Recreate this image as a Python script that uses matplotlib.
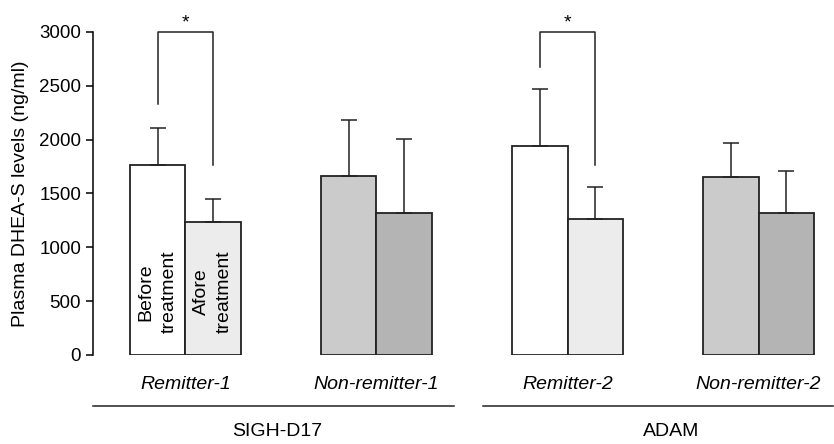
import numpy as np
import matplotlib.pyplot as plt
from matplotlib.transforms import blended_transform_factory

plt.rcParams['font.family'] = 'Liberation Sans'

# data
groups = ['Remitter-1', 'Non-remitter-1', 'Remitter-2', 'Non-remitter-2']
before = [1760, 1665, 1945, 1650]
before_err = [350, 515, 525, 320]
after = [1235, 1320, 1262, 1320]
after_err = [215, 685, 298, 385]
before_colors = ['white', '#cbcbcb', 'white', '#cbcbcb']
after_colors = ['#ececec', '#b4b4b4', '#ececec', '#b4b4b4']
scales = ['SIGH-D17', 'ADAM']
scale_span = [(-0.484, 1.406), (1.558, 3.39)]
scale_label_x = [0.48, 2.54]
# significance brackets: (group index, left leg bottom, right leg bottom)
brackets = [(0, 2330, 1765), (2, 2677, 1765)]

w = 0.29
x = np.arange(len(groups))

fig = plt.figure(figsize=(8.34, 4.44), dpi=100)
ax = fig.add_axes([0.1115, 0.2005, 0.8885, 0.7275])

ax.bar(x - w/2, before, w, color=before_colors, edgecolor='#222222', linewidth=1.3)
ax.bar(x + w/2, after, w, color=after_colors, edgecolor='#222222', linewidth=1.3)
ax.errorbar(x - w/2, before, yerr=[np.zeros(4), before_err], fmt='none',
            ecolor='#222222', elinewidth=1.1, capsize=6, capthick=1.1)
ax.errorbar(x + w/2, after, yerr=[np.zeros(4), after_err], fmt='none',
            ecolor='#222222', elinewidth=1.1, capsize=6, capthick=1.1)

for g, lb, rb in brackets:
    xl, xr = g - w/2, g + w/2
    ax.plot([xl, xl, xr, xr], [lb, 3000, 3000, rb], color='#222222', lw=1.1,
            clip_on=False)
    ax.text(g, 3005, '*', ha='center', va='bottom', fontsize=14, clip_on=False)

ax.text(0 - w/2, 585, 'Before\ntreatment', rotation=90, ha='center', va='center',
        multialignment='center', fontsize=14, linespacing=1.45)
ax.text(0 + w/2, 585, 'Afore\ntreatment', rotation=90, ha='center', va='center',
        multialignment='center', fontsize=14, linespacing=1.45)

ax.set_xlim(-0.484, 3.395)
ax.set_ylim(0, 3000)
ax.set_yticks(np.arange(0, 3001, 500))
ax.tick_params(axis='y', labelsize=13.5, length=5, width=1.1, direction='out')
ax.set_xticks(x)
ax.set_xticklabels(groups, fontsize=14, style='italic')
ax.tick_params(axis='x', length=0, pad=15)
for s in ['top', 'right', 'bottom']:
    ax.spines[s].set_visible(False)
ax.spines['left'].set_linewidth(1.1)
ax.set_ylabel('Plasma DHEA-S levels (ng/ml)', fontsize=14, labelpad=7)

tr = blended_transform_factory(ax.transData, ax.transAxes)
for name, (x0, x1), lx in zip(scales, scale_span, scale_label_x):
    ax.plot([x0, x1], [-0.158, -0.158], color='#222222', lw=1.1,
            transform=tr, clip_on=False)
    ax.text(lx, -0.238, name, ha='center', va='center', fontsize=14, transform=tr)

fig.savefig('out.png', dpi=100)
